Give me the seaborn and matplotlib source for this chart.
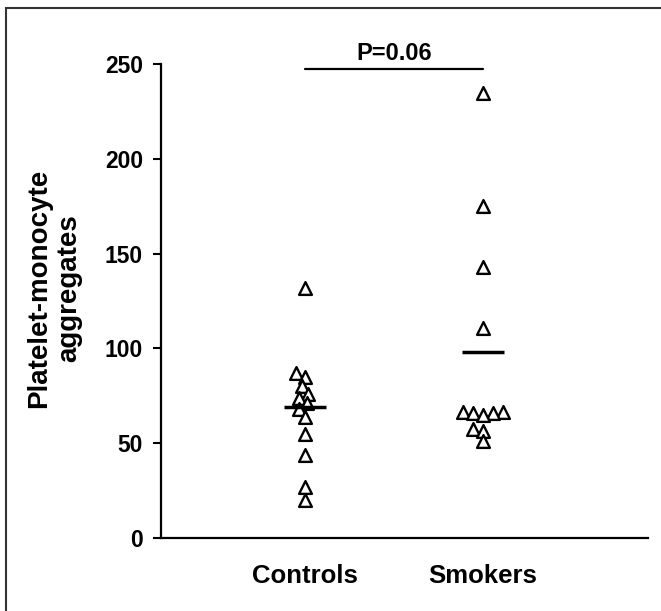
import matplotlib
matplotlib.use('Agg')
import matplotlib.pyplot as plt
import matplotlib.collections as mcoll
import seaborn as sns
import pandas as pd
from matplotlib.patches import Rectangle

# ---- data ----
groups = ['Controls', 'Smokers']
controls = [132, 87, 85, 80, 76, 74, 71, 68, 64, 55, 44, 27, 20]
smokers = [234.5, 175, 143, 111, 66.5, 66.5, 66, 66, 65, 57.5, 56.5, 51]
group_means = [69.3, 98.3]
p_label = 'P=0.06'
y_ticks = [0, 50, 100, 150, 200, 250]
y_label = 'Platelet-monocyte\naggregates'

sns.set_theme(style='ticks')
plt.rcParams['font.family'] = ['Liberation Sans', 'DejaVu Sans']
plt.rcParams['font.weight'] = 'bold'
plt.rcParams['text.color'] = 'black'
plt.rcParams['axes.labelcolor'] = 'black'
plt.rcParams['xtick.color'] = 'black'
plt.rcParams['ytick.color'] = 'black'

fig = plt.figure(figsize=(6.61, 6.11), dpi=100)
ax = fig.add_axes([161 / 661, 73 / 611, 487 / 661, 474 / 611])

df = pd.DataFrame({
    'group': [groups[0]] * len(controls) + [groups[1]] * len(smokers),
    'value': controls + smokers,
})

# swarm layout computed with a compact marker footprint (points overlap as in the original)
sns.swarmplot(data=df, x='group', y='value', order=groups, marker='^',
              size=5.2, color='white', edgecolor='black', linewidth=1.7,
              ax=ax, clip_on=False)

ax.set_xlim(-0.809, 1.927)
ax.set_ylim(0, 250)

# mean lines
for i, m in enumerate(group_means):
    ax.hlines(m, i - 0.118, i + 0.118, color='black', lw=2.5, zorder=5)

# significance bar
ax.plot([0, 1], [247.4, 247.4], color='black', lw=1.6, clip_on=False)
ax.text(0.5, 252, p_label, ha='center', va='baseline', fontsize=17,
        fontweight='bold', clip_on=False)

ax.set_yticks(y_ticks)
ax.set_yticklabels([str(t) for t in y_ticks], fontsize=16.5, fontweight='bold')
ax.set_xticks(range(len(groups)))
ax.set_xticklabels(groups, fontsize=18.5, fontweight='bold')
ax.tick_params(axis='y', length=6, width=1.5, pad=7)
ax.tick_params(axis='x', length=0, pad=19)
ax.set_xlabel('')
ax.set_ylabel(y_label, fontsize=20, fontweight='bold', linespacing=1.2)
ax.yaxis.set_label_coords(-0.162, 0.527)

sns.despine(ax=ax)
for s in ['left', 'bottom']:
    ax.spines[s].set_linewidth(1.6)
    ax.spines[s].set_color('black')
ax.spines['left'].set_bounds(0, 250)
ax.set_facecolor('white')
fig.patch.set_facecolor('white')

# outer frame (cropped on right and bottom)
fig.add_artist(Rectangle((6 / 661, -0.1), 2, (611 - 8) / 611 + 0.1,
                         transform=fig.transFigure, fill=False,
                         edgecolor='#333333', lw=1.5))

# run the swarm layout once, then freeze positions and enlarge the markers
fig.canvas.draw()
for coll in ax.collections:
    if isinstance(coll, mcoll.PathCollection):
        if 'draw' in coll.__dict__:
            del coll.draw
        coll.set_sizes([9.2 ** 2])

fig.savefig('out.png', dpi=100)
